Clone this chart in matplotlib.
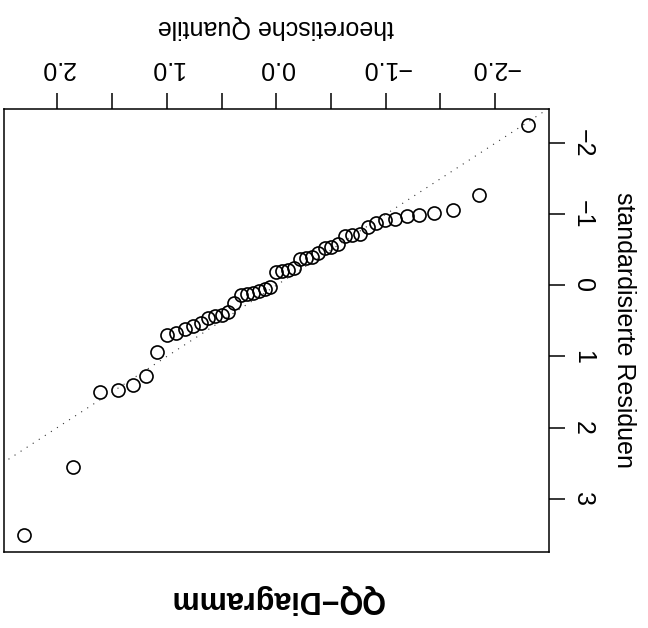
import matplotlib
matplotlib.use("Agg")
import matplotlib.pyplot as plt

plt.rcParams['font.family'] = ['Liberation Sans', 'DejaVu Sans']

# Theoretical normal quantiles (n = 47)
theo_q = [-2.303, -1.853, -1.614, -1.443, -1.306, -1.190, -1.088, -0.996,
          -0.912, -0.834, -0.761, -0.691, -0.625, -0.561, -0.500, -0.441,
          -0.383, -0.326, -0.270, -0.215, -0.161, -0.107, -0.053, 0.000,
          0.053, 0.107, 0.161, 0.215, 0.270, 0.326, 0.383, 0.441,
          0.500, 0.561, 0.625, 0.691, 0.761, 0.834, 0.912, 0.996,
          1.088, 1.190, 1.306, 1.443, 1.614, 1.853, 2.303]

# Sorted standardized residuals
std_resid = [-2.257, -1.273, -1.063, -1.016, -0.992, -0.974, -0.936, -0.926,
             -0.884, -0.828, -0.725, -0.704, -0.690, -0.578, -0.545, -0.524,
             -0.454, -0.406, -0.384, -0.367, -0.240, -0.220, -0.205, -0.195,
             0.020, 0.052, 0.086, 0.108, 0.128, 0.135, 0.249, 0.381,
             0.413, 0.427, 0.460, 0.530, 0.578, 0.614, 0.673, 0.701,
             0.943, 1.280, 1.401, 1.467, 1.500, 2.554, 3.515]

# Reference line (identity)
ref_intercept = 0.0
ref_slope = 1.0

x_ticks = [-2.0, -1.5, -1.0, -0.5, 0.0, 0.5, 1.0, 1.5, 2.0]
x_ticklabels = ["\u22122.0", "", "\u22121.0", "", "0.0", "", "1.0", "", "2.0"]
y_ticks = [-2, -1, 0, 1, 2, 3]
y_ticklabels = ["\u22122", "\u22121", "0", "1", "2", "3"]

title = "QQ\u2212Diagramm"
xlabel = "theoretische Quantile"
ylabel = "standardisierte Residuen"

W, H = 648, 628
fig = plt.figure(figsize=(W / 100, H / 100), dpi=100)
ax = fig.add_axes([4 / W, (H - 551.7) / H, 544.5 / W, 443.2 / H])

ax.plot(theo_q, std_resid, linestyle='none', marker='o', markersize=9.4,
        markerfacecolor='none', markeredgecolor='black', markeredgewidth=1.2)
ax.axline((0, ref_intercept), slope=ref_slope, color='#333333', linewidth=0.8,
          linestyle=(0, (1, 5.5)))

ax.set_xlim(2.487, -2.487)
ax.set_ylim(3.746, -2.488)

ax.xaxis.set_ticks_position('top')
ax.yaxis.set_ticks_position('right')
ax.set_xticks(x_ticks)
ax.set_xticklabels(x_ticklabels)
ax.set_yticks(y_ticks)
ax.set_yticklabels(y_ticklabels)

for s in ax.spines.values():
    s.set_linewidth(1.1)

ax.tick_params(axis='x', direction='out', length=11.8, width=1.1,
               labelsize=18, pad=9, labelrotation=180)
ax.tick_params(axis='y', direction='out', length=11.8, width=1.1,
               labelsize=18, pad=4.5, labelrotation=-90)
for lbl in ax.get_yticklabels():
    lbl.set_va('center')

fig.text(276 / W, 1 - 27 / H, xlabel, rotation=180, ha='center', va='center',
         fontsize=18)
fig.text(624 / W, 1 - 330 / H, ylabel, rotation=-90, ha='center', va='center',
         fontsize=18)
fig.text(277 / W, 1 - 599 / H, title, rotation=180, ha='center', va='center',
         fontsize=22, fontweight='bold')

fig.savefig("out.png", dpi=100)
